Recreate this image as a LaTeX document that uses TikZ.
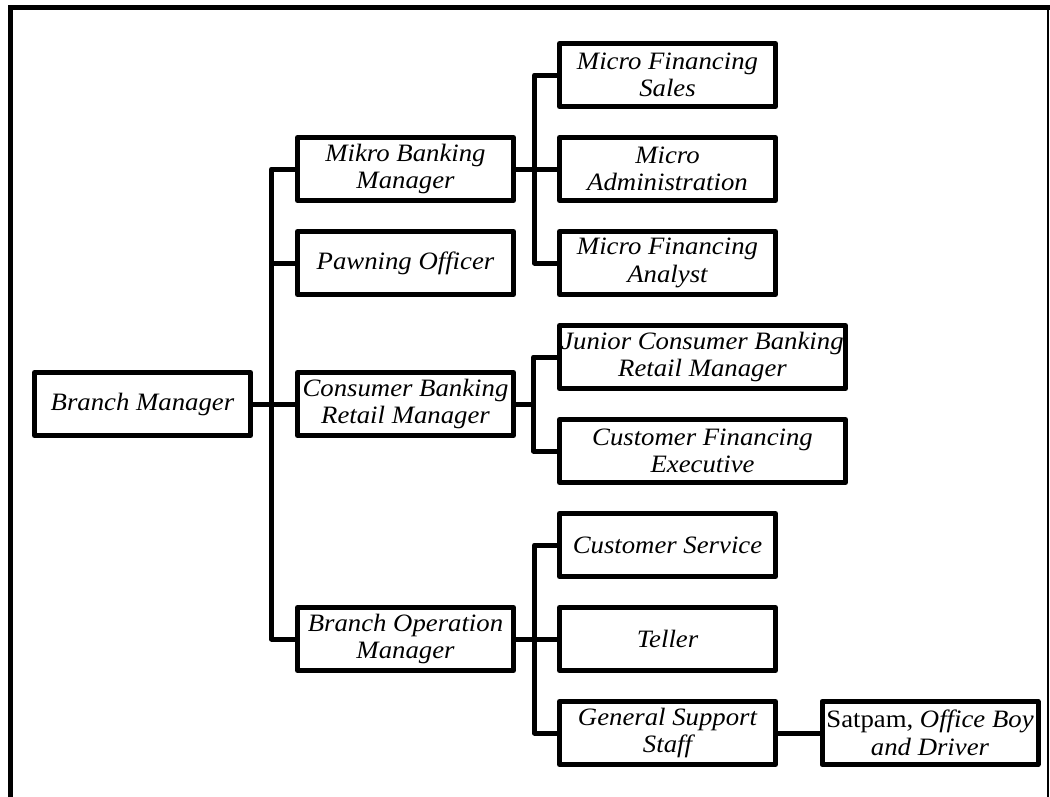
\documentclass[tikz,border=0pt]{standalone}
\usepackage{fontspec}
\setmainfont{Liberation Serif}[FakeStretch=1.07]
\begin{document}
\begin{tikzpicture}[x=1pt,y=-1pt,
  box/.style={draw, line width=5pt, line join=round, rectangle, inner sep=0pt,
    minimum width=216pt, minimum height=63pt, align=center,
    font=\itshape\fontsize{25}{27.5}\selectfont},
  widebox/.style={box, minimum width=286pt},
  conn/.style={line width=5pt, line join=round},
  frame/.style={line width=5pt}]
\useasboundingbox (0,0) rectangle (1050,796);
% outer frame (left, top, right)
\draw[frame] (10.5,800) -- (10.5,7.5) -- (1050,7.5);
\draw[line width=2pt] (1048,7.5) -- (1048,800);
% level 1
\node[box] (bm) at (142.5,404) {Branch Manager};
% level 2
\node[box] (mbm) at (405.5,169) {Mikro Banking\\Manager};
\node[box] (po) at (405.5,263) {Pawning Officer};
\node[box] (cbrm) at (405.5,404) {Consumer Banking\\Retail Manager};
\node[box] (bom) at (405.5,639) {Branch Operation\\Manager};
% level 3
\node[box] (mfs) at (667.5,75) {Micro Financing\\Sales};
\node[box] (ma) at (667.5,169) {Micro\\Administration};
\node[box] (mfa) at (667.5,263) {Micro Financing\\Analyst};
\node[widebox] (jc) at (702.5,357) {Junior Consumer Banking\\Retail Manager};
\node[widebox] (cfe) at (702.5,451) {Customer Financing\\Executive};
\node[box] (cs) at (667.5,545) {Customer Service};
\node[box] (tel) at (667.5,639) {Teller};
\node[box] (gss) at (667.5,733) {General Support\\Staff};
% level 4
\node[box] (sat) at (930,733) {{\upshape Satpam,} Office Boy\\and Driver};
% connectors
\draw[conn] (mbm.west) -- ++(-23.5,0) coordinate (sp1) |- (bom.west);
\draw[conn] (po.west) -- (po.west -| sp1);
\draw[conn] (bm.east) -- (cbrm.west);
\draw[conn] (mfs.west) -- ++(-22.5,0) coordinate (sp2) |- (mfa.west);
\draw[conn] (mbm.east) -- (ma.west);
\draw[conn] (jc.west) -- ++(-23.5,0) coordinate (sp3) |- (cfe.west);
\draw[conn] (cbrm.east) -- (cbrm.east -| sp3);
\draw[conn] (cs.west) -- ++(-22.5,0) coordinate (sp4) |- (gss.west);
\draw[conn] (bom.east) -- (tel.west);
\draw[conn] (gss.east) -- (sat.west);
\end{tikzpicture}
\end{document}
